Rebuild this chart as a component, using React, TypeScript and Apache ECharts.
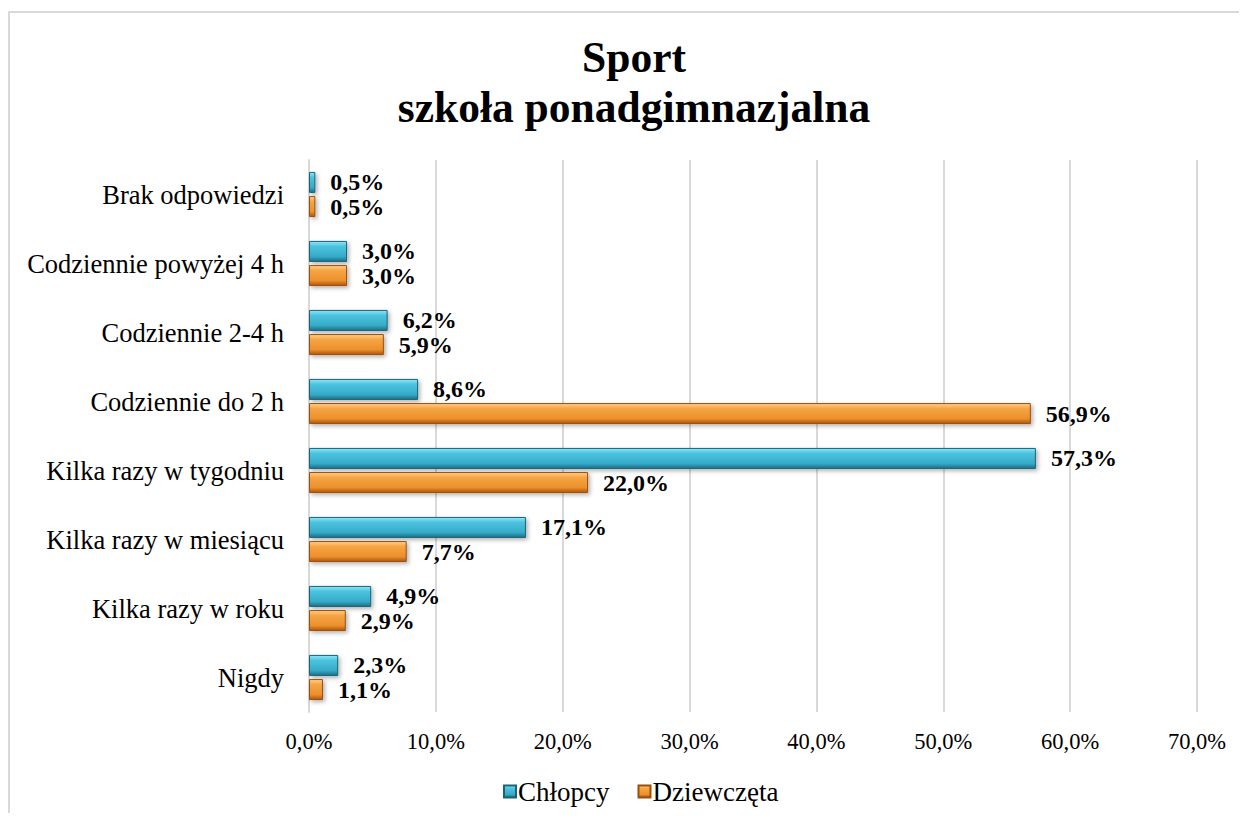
import React, { useEffect, useRef } from "react";
import * as echarts from "echarts";

const categories = [
  "Nigdy",
  "Kilka razy w roku",
  "Kilka razy w miesiącu",
  "Kilka razy w tygodniu",
  "Codziennie do 2 h",
  "Codziennie 2-4 h",
  "Codziennie powyżej 4 h",
  "Brak odpowiedzi",
];
const chlopcy = [2.3, 4.9, 17.1, 57.3, 8.6, 6.2, 3.0, 0.5];
const dziewczeta = [1.1, 2.9, 7.7, 22.0, 56.9, 5.9, 3.0, 0.5];
const titleText = "Sport\nszkoła ponadgimnazjalna";
const seriesNames = ["Chłopcy", "Dziewczęta"];

const FONT = "'Liberation Serif', 'Times New Roman', serif";

const fmt = (v: number) => v.toFixed(1).replace(".", ",") + "%";

export default function App() {
  const ref = useRef<HTMLDivElement>(null);
  useEffect(() => {
    if (!ref.current) return;
    const chart = echarts.init(ref.current, null, { renderer: "svg" });
    const blue = new echarts.graphic.LinearGradient(0, 0, 0, 1, [
      { offset: 0, color: "#8ee6f8" },
      { offset: 0.25, color: "#4cc3de" },
      { offset: 0.75, color: "#36abc9" },
      { offset: 1, color: "#1d6f86" },
    ]);
    const orange = new echarts.graphic.LinearGradient(0, 0, 0, 1, [
      { offset: 0, color: "#ffd08a" },
      { offset: 0.25, color: "#f6a443" },
      { offset: 0.75, color: "#ec902c" },
      { offset: 1, color: "#a9560c" },
    ]);
    const labelCfg = {
      show: true,
      position: "right" as const,
      distance: 15,
      color: "#000",
      fontFamily: FONT,
      fontWeight: "bold" as const,
      fontSize: 24,
      lineHeight: 22,
      formatter: (p: any) => fmt(p.value),
    };
    chart.setOption({
      animation: false,
      backgroundColor: "#fff",
      title: {
        text: titleText,
        left: 621,
        top: 19,
        textAlign: "center",
        textStyle: {
          fontFamily: FONT,
          fontWeight: "bold",
          fontSize: 43.5,
          lineHeight: 50,
          color: "#000",
        },
      },
      graphic: [
        {
          type: "line",
          shape: { x1: 1, y1: 3, x2: 1, y2: 900 },
          style: { stroke: "#d9d9d9", lineWidth: 2 },
        },
        {
          type: "line",
          shape: { x1: 0, y1: 4, x2: 1400, y2: 4 },
          style: { stroke: "#d9d9d9", lineWidth: 2 },
        },
      ],
      legend: {
        data: seriesNames,
        bottom: 3,
        left: 490,
        itemWidth: 12,
        itemHeight: 12,
        itemGap: 28,
        icon: "rect",
        textStyle: { fontFamily: FONT, fontSize: 27, color: "#000", padding: [0, 0, 0, -3] },
      },
      grid: { left: 301, right: 42, top: 152, bottom: 101, containLabel: false },
      xAxis: {
        type: "value",
        min: 0,
        max: 70,
        interval: 10,
        axisLine: { show: false },
        axisTick: { show: false },
        splitLine: { show: true, lineStyle: { color: "#d9d9d9", width: 2 } },
        axisLabel: {
          fontFamily: FONT,
          fontSize: 22.5,
          color: "#000",
          margin: 18,
          formatter: (v: number) => fmt(v),
        },
      },
      yAxis: {
        type: "category",
        data: categories,
        axisLine: { show: true, lineStyle: { color: "#d9d9d9", width: 2 } },
        axisTick: { show: false },
        axisLabel: {
          fontFamily: FONT,
          fontSize: 26.5,
          color: "#000",
          margin: 25,
        },
      },
      series: [
        {
          name: seriesNames[0],
          type: "bar",
          data: chlopcy,
          barWidth: 21,
          barGap: "15%",
          itemStyle: {
            color: blue,
            borderColor: "#1a6478",
            borderWidth: 1,
            shadowColor: "rgba(0,0,0,0.3)",
            shadowBlur: 4,
            shadowOffsetX: 2,
            shadowOffsetY: 2,
          },
          label: labelCfg,
        },
        {
          name: seriesNames[1],
          type: "bar",
          data: dziewczeta,
          barWidth: 21,
          barGap: "15%",
          itemStyle: {
            color: orange,
            borderColor: "#9a4f0b",
            borderWidth: 1,
            shadowColor: "rgba(0,0,0,0.3)",
            shadowBlur: 4,
            shadowOffsetX: 2,
            shadowOffsetY: 2,
          },
          label: labelCfg,
        },
      ],
    });
    return () => chart.dispose();
  }, []);
  return <div ref={ref} style={{ width: 1231, height: 805 }} />;
}
